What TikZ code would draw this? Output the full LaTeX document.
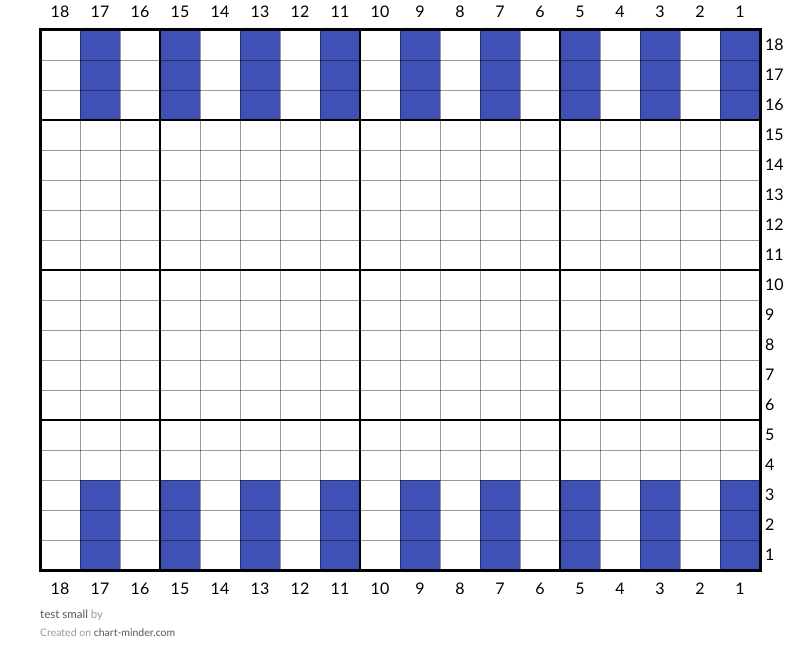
\documentclass[tikz,border=0pt]{standalone}
\usepackage{fontspec}
\setmainfont{Lato}
\usepackage{xcolor}
\definecolor{stitchblue}{HTML}{3F51B5}
\definecolor{footgray}{HTML}{555555}
\definecolor{lightgray}{HTML}{9A9A9A}

\begin{document}
\begin{tikzpicture}[
      x=1pt, y=-1pt,
      cell/.style={fill=stitchblue},
      thin_line/.style={draw=black, draw opacity=0.4, line width=0.9pt},
      thick_line/.style={draw=black, line width=2pt},
      border/.style={draw=black, line width=3pt},
      num/.style={font=\fontsize{16}{18}\selectfont, inner sep=0pt},
      foot/.style={inner sep=0pt, anchor=west}
  ]
  \useasboundingbox (0,0) rectangle (800,663);

  % blue stitches, odd columns, top and bottom bands
  \foreach \c in {1,3,...,17} {
    \fill[cell] (760-40*\c,30) rectangle ++(40,90);
    \fill[cell] (760-40*\c,480) rectangle ++(40,90);
  }

  % thin grid
  \foreach \i in {1,...,17}
    \draw[thin_line] (40+40*\i,30) -- (40+40*\i,570);
  \foreach \j in {1,...,17}
    \draw[thin_line] (40,30+30*\j) -- (760,30+30*\j);

  % thick lines every 5
  \foreach \xx in {160,360,560}
    \draw[thick_line] (\xx,30) -- (\xx,570);
  \foreach \yy in {120,270,420}
    \draw[thick_line] (40,\yy) -- (760,\yy);
  \draw[border] (40,30) rectangle (760,570);

  % column and row numbers
  \foreach \c in {1,...,18} {
    \node[num] (top\c) at (780-40*\c,12) {\c};
    \node[num] (bot\c) at (780-40*\c,589) {\c};
  }
  \foreach \r in {1,...,18}
    \node[num, anchor=west] (row\r) at (765,585-30*\r) {\r};

  % footer
  \node[foot, font=\fontsize{11.5}{12}\selectfont, text=footgray] (title) at (40,615) {test small \textcolor{lightgray}{by}};
  \node[foot, font=\fontsize{10.5}{12}\selectfont, text=lightgray] (credit) at (40,633) {Created on \textcolor{footgray}{chart-minder.com}};

\end{tikzpicture}
\end{document}
